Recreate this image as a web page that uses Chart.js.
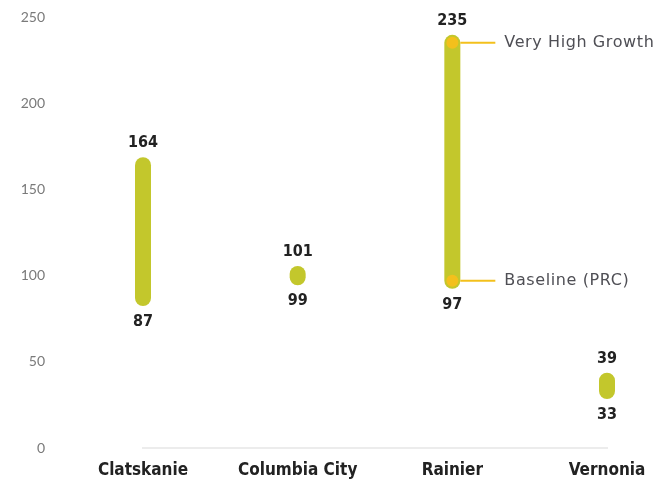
<!DOCTYPE html>
<html>
<head>
<meta charset="utf-8">
<script src="https://cdn.jsdelivr.net/npm/chart.js@4/dist/chart.umd.min.js"></script>
<style>
  html, body { margin: 0; padding: 0; background: #fff; }
  canvas { display: block; }
</style>
</head>
<body>
<canvas id="chart" width="663" height="481"></canvas>
<script>
const categories = ["Clatskanie", "Columbia City", "Rainier", "Vernonia"];
const baseline = [87, 99, 97, 33];
const highGrowth = [164, 101, 235, 39];
const yTicks = [0, 50, 100, 150, 200, 250];
const noteLabels = ["Very High Growth", "Baseline (PRC)"];
const noteCategory = "Rainier";

const BAR = '#c3c72c';
const DOT = '#f3c01c';
const BOLD = '"DejaVu Sans Condensed", "DejaVu Sans", sans-serif';

// one dataset per town: a thick line from baseline to high growth
const datasets = categories.map((c, i) => ({
    data: [{ x: c, y: baseline[i] }, { x: c, y: highGrowth[i] }],
    borderColor: BAR,
    borderWidth: 16,
    borderCapStyle: 'round',
    pointRadius: c === noteCategory ? 6 : 0,
    pointBackgroundColor: DOT,
    pointBorderWidth: 0,
    pointHoverRadius: 0,
}));

const labelPlugin = {
    id: 'rangeLabels',
    afterDatasetsDraw(chart) {
        const ctx = chart.ctx;
        const xs = chart.scales.x, ys = chart.scales.y;
        ctx.save();
        ctx.fillStyle = '#222';
        ctx.font = 'bold 16px ' + BOLD;
        ctx.textAlign = 'center';
        ctx.textBaseline = 'middle';
        categories.forEach((c, i) => {
            const x = xs.getPixelForValue(i);
            ctx.fillText(String(highGrowth[i]), x, ys.getPixelForValue(highGrowth[i]) - 22);
            ctx.fillText(String(baseline[i]), x, ys.getPixelForValue(baseline[i]) + 24);
        });
        // notes for Rainier
        const k = categories.indexOf(noteCategory);
        const x = xs.getPixelForValue(k);
        const vals = [highGrowth[k], baseline[k]];
        ctx.font = '16px "DejaVu Sans", sans-serif';
        ctx.letterSpacing = '0.6px';
        ctx.textAlign = 'left';
        vals.forEach((v, j) => {
            const y = ys.getPixelForValue(v);
            ctx.strokeStyle = DOT;
            ctx.lineWidth = 2;
            ctx.beginPath();
            ctx.moveTo(x + 8, y);
            ctx.lineTo(x + 43, y);
            ctx.stroke();
            ctx.fillStyle = '#4f4f55';
            ctx.fillText(noteLabels[j], x + 52, y);
        });
        ctx.restore();
    }
};

new Chart(document.getElementById('chart'), {
    type: 'line',
    data: { labels: categories, datasets: datasets },
    options: {
        responsive: false,
        animation: false,
        layout: { padding: { top: 17, right: 56, left: 0, bottom: 0 } },
        plugins: { legend: { display: false }, tooltip: { enabled: false } },
        scales: {
            x: {
                type: 'category',
                offset: false,
                grid: { display: false, drawTicks: false },
                border: { display: true, color: '#ececec', width: 2, dash: [3, 4] },
                ticks: {
                    padding: 12,
                    color: '#222',
                    font: { family: BOLD, size: 17, weight: 'bold' }
                },
                afterFit(scale) { scale.height = 33; }
            },
            y: {
                min: 0,
                max: 250,
                grid: { display: false, drawTicks: false },
                border: { display: false },
                afterBuildTicks(scale) { scale.ticks = yTicks.map(v => ({ value: v })); },
                ticks: {
                    padding: 98,
                    color: '#7a7a7a',
                    font: { family: 'Lato, sans-serif', size: 14 }
                },
                afterFit(scale) {
                    scale.width = 143;
                    scale.paddingTop = 0;
                    scale.paddingBottom = 0;
                }
            }
        }
    },
    plugins: [labelPlugin]
});
</script>
</body>
</html>
